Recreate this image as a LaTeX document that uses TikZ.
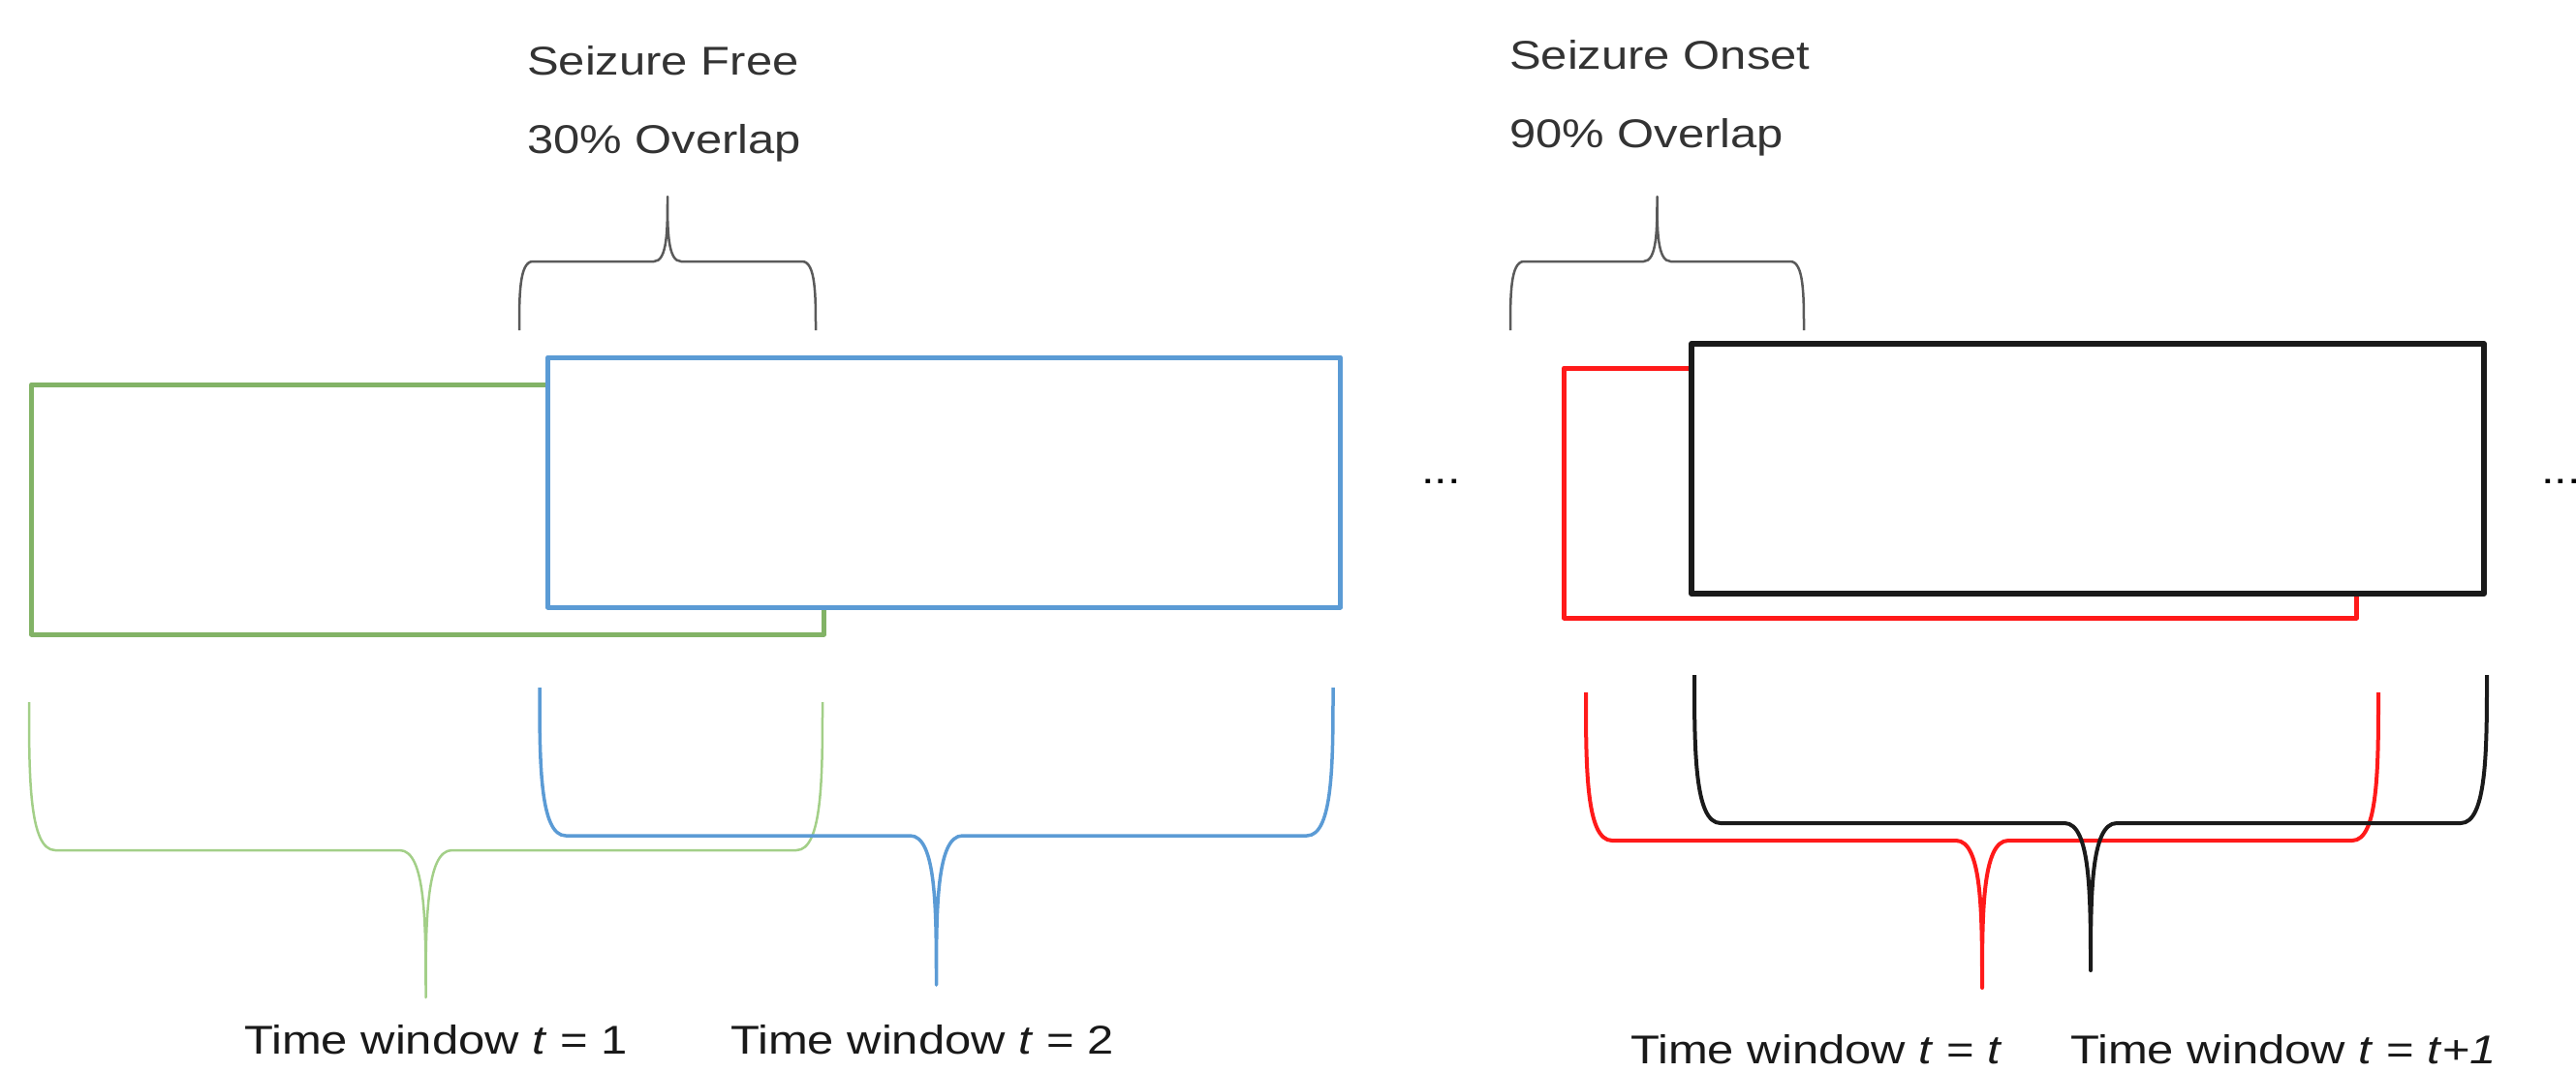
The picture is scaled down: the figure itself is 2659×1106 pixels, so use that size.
\documentclass[tikz,border=0pt]{standalone}
\usepackage{fontspec}
\setmainfont{Liberation Sans}[FakeStretch=1.18]
\definecolor{wingreen}{HTML}{82B366}
\definecolor{bracegreen}{HTML}{A3CF88}
\definecolor{winblue}{HTML}{5B9BD5}
\definecolor{winred}{HTML}{FF1A1A}
\definecolor{winblack}{HTML}{1A1A1A}
\definecolor{bracegray}{HTML}{5A5A5A}
\definecolor{txtgray}{HTML}{333333}
% curly brace: style, left, right, end y, bar y, tip y, corner
\newcommand{\winbrace}[7]{%
  \draw[#1] (#2,#4) .. controls (#2,{(#4+#5)/2}) and (#2,#5) .. ({#2+#7},#5)
    -- ({(#2+#3)/2-#7},#5) .. controls ({(#2+#3)/2},#5) and ({(#2+#3)/2},{(#5+#6)/2}) .. ({(#2+#3)/2},#6)
    .. controls ({(#2+#3)/2},{(#5+#6)/2}) and ({(#2+#3)/2},#5) .. ({(#2+#3)/2+#7},#5)
    -- ({#3-#7},#5) .. controls (#3,#5) and (#3,{(#4+#5)/2}) .. (#3,#4);}

\begin{document}
\begin{tikzpicture}[x=1pt, y=-1pt, line join=round,
  every node/.style={inner sep=0pt, font=\fontsize{41.5pt}{50pt}\selectfont},
  winbox/.style={draw, fill=white, line width=5pt, minimum width=818pt, minimum height=258pt},
  toplabel/.style={anchor=base west, text=txtgray},
  timelabel/.style={anchor=base west, text=black!90},
  topbrace/.style={draw=bracegray, line width=2.5pt}]
\useasboundingbox (0,0) rectangle (2659,1106);
% seizure free windows
\node[winbox, draw=wingreen] (win1) at (441.5,526) {};
\node[winbox, draw=winblue] (win2) at (974.5,498) {};
% seizure onset windows
\node[winbox, draw=winred] (wint) at (2023.5,509) {};
\node[winbox, draw=winblack, line width=6pt] (wintp) at (2155,484) {};
\node[anchor=base west] (dotsl) at (1467,499) {...};
\node[anchor=base west] (dotsr) at (2623,499) {...};
% overlap braces
\winbrace{topbrace}{536}{842}{341}{270}{203}{14}
\winbrace{topbrace}{1559}{1862}{341}{270}{203}{14}
\node[toplabel] (lblfree) at (544,77) {Seizure Free};
\node[toplabel] (lblfreeov) at (544,158) {30\% Overlap};
\node[toplabel] (lblonset) at (1558,71) {Seizure Onset};
\node[toplabel] (lblonsetov) at (1558,152) {90\% Overlap};
% window braces
\winbrace{draw=bracegreen, line width=2.5pt}{30}{849}{725}{878}{1030}{27}
\winbrace{draw=winblue, line width=3.5pt}{557}{1376}{710}{863}{1017}{27}
\winbrace{draw=winred, line width=4pt}{1637}{2455}{715}{868}{1020}{27}
\winbrace{draw=winblack, line width=4pt}{1749}{2567}{697}{850}{1002}{27}
\node[timelabel] (lblt1) at (252,1088) {Time window \textit{t} = 1};
\node[timelabel] (lblt2) at (754,1088) {Time window \textit{t} = 2};
\node[timelabel] (lbltt) at (1683,1098) {Time window \textit{t} = \textit{t}};
\node[timelabel] (lblttp) at (2137,1098) {Time window \textit{t} = \textit{t}+\textit{1}};
\end{tikzpicture}
\end{document}
